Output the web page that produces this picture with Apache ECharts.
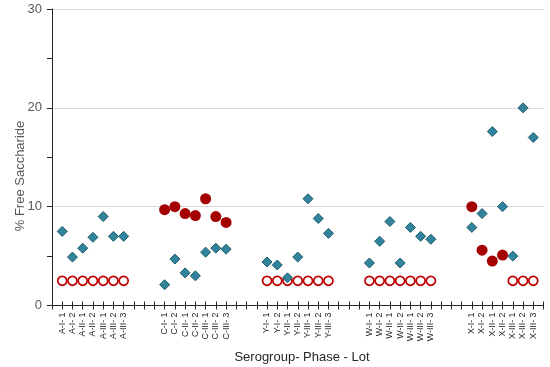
<!DOCTYPE html>
<html><head><meta charset="utf-8">
<script src="https://cdn.jsdelivr.net/npm/echarts@6/dist/echarts.min.js"></script>
<style>html,body{margin:0;padding:0;background:#fff}#c{width:550px;height:367px}</style>
</head><body><div id="c"></div>
<script>
var labels = ['',
 'A-I- 1','A-I- 2','A-II- 1','A-II- 2','A-III- 1','A-III- 2','A-III- 3','','','',
 'C-I- 1','C-I- 2','C-II- 1','C-II- 2','C-III- 1','C-III- 2','C-III- 3','','','',
 'Y-I- 1','Y-I- 2','Y-II- 1','Y-II- 2','Y-III- 1','Y-III- 2','Y-III- 3','','','',
 'W-I- 1','W-I- 2','W-II- 1','W-II- 2','W-III- 1','W-III- 2','W-III- 3','','','',
 'X-I- 1','X-I- 2','X-II- 1','X-II- 2','X-III- 1','X-III- 2','X-III- 3',''];
var diamondVals = [null,
 7.5,4.9,5.8,6.9,9.0,7.0,7.0, null,null,null,
 2.1,4.7,3.3,3.0,5.4,5.8,5.7, null,null,null,
 4.4,4.1,2.8,4.9,10.8,8.8,7.3, null,null,null,
 4.3,6.5,8.5,4.3,7.9,7.0,6.7, null,null,null,
 7.9,9.3,17.6,10.0,5.0,20.0,17.0, null];
var filledVals = [null,
 null,null,null,null,null,null,null, null,null,null,
 9.7,10.0,9.3,9.1,10.8,9.0,8.4, null,null,null,
 null,null,null,null,null,null,null, null,null,null,
 null,null,null,null,null,null,null, null,null,null,
 10.0,5.6,4.5,5.1,null,null,null, null];
var openVals = [null,
 2.5,2.5,2.5,2.5,2.5,2.5,2.5, null,null,null,
 null,null,null,null,null,null,null, null,null,null,
 2.5,2.5,2.5,2.5,2.5,2.5,2.5, null,null,null,
 2.5,2.5,2.5,2.5,2.5,2.5,2.5, null,null,null,
 null,null,null,null,2.5,2.5,2.5, null];
var yTicks = [0,10,20,30];

function d(a){return a.map(function(v){return v==null?'-':v;});}
var chart = echarts.init(document.getElementById('c'));
var grey = '#595959', axisCol = '#262626';
chart.setOption({
  animation:false,
  grid:{left:52,right:6.5,top:9,bottom:61.5},
  xAxis:[{
    type:'category', data:labels, boundaryGap:false,
    axisLine:{lineStyle:{color:axisCol,width:1}},
    axisTick:{show:true,interval:0,length:4,lineStyle:{color:axisCol}},
    axisLabel:{interval:0,rotate:90,fontSize:8.8,color:'#1a1a1a',margin:7,fontFamily:'Liberation Sans'},
    splitLine:{show:false}
  },{
    type:'category', data:labels, boundaryGap:false, position:'bottom',
    axisLine:{show:false},
    axisTick:{show:true,inside:true,interval:0,length:4,lineStyle:{color:axisCol}},
    axisLabel:{show:false}, splitLine:{show:false}
  }],
  yAxis:{
    type:'value', min:yTicks[0], max:yTicks[yTicks.length-1], interval:10,
    axisLine:{show:true,lineStyle:{color:axisCol}},
    axisTick:{show:true,length:5,lineStyle:{color:axisCol}},
    minorTick:{show:true,splitNumber:2,length:5,lineStyle:{color:axisCol}},
    axisLabel:{fontSize:13,color:grey,margin:10,fontFamily:'Liberation Sans'},
    splitLine:{show:true,lineStyle:{color:'#D9D9D9',width:1}}
  },
  graphic:[
    {type:'text',x:20,y:176,rotation:Math.PI/2,style:{text:'% Free Saccharide',fontSize:13,fontFamily:'Liberation Sans',fill:grey,align:'center',verticalAlign:'middle'}},
    {type:'text',x:302,y:357,style:{text:'Serogroup- Phase - Lot',fontSize:13,fontFamily:'Liberation Sans',fill:'#262626',align:'center',verticalAlign:'middle'}}
  ],
  series:[
    {type:'scatter',data:d(openVals),symbol:'circle',symbolSize:9,
     itemStyle:{color:'#fff',borderColor:'#C00000',borderWidth:1.7,opacity:1}},
    {type:'scatter',data:d(diamondVals),symbol:'diamond',symbolSize:10,
     itemStyle:{color:'#31849B',borderColor:'#1F5A6B',borderWidth:1,opacity:1}},
    {type:'scatter',data:d(filledVals),symbol:'circle',symbolSize:11,
     itemStyle:{color:'#A50000',borderColor:'#A50000',borderWidth:0,opacity:1}}
  ]
});
</script></body></html>
